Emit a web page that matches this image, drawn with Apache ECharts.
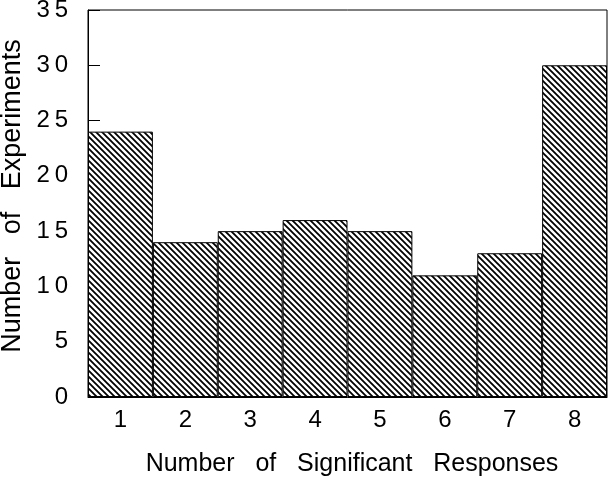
<!DOCTYPE html>
<html>
<head>
<meta charset="utf-8">
<script src="https://cdn.jsdelivr.net/npm/echarts@6/dist/echarts.min.js"></script>
<style>
  html, body { margin: 0; padding: 0; background: #fff; }
  #chart { width: 612px; height: 478px; }
</style>
</head>
<body>
<div id="chart"></div>
<script>
var categories = ['1', '2', '3', '4', '5', '6', '7', '8'];
var experiments = [24, 14, 15, 16, 15, 11, 13, 30];
var yTicks = [0, 5, 10, 15, 20, 25, 30, 35];

// hatch tile, lines running top-left to bottom-right
function makeHatch() {
    var n = 6;
    var c = document.createElement('canvas');
    c.width = n;
    c.height = n;
    var ctx = c.getContext('2d');
    ctx.fillStyle = '#fff';
    ctx.fillRect(0, 0, n, n);
    ctx.strokeStyle = '#000';
    ctx.lineWidth = 1.8;
    ctx.beginPath();
    ctx.moveTo(-1, -1); ctx.lineTo(n + 1, n + 1);
    ctx.moveTo(-1, n - 1); ctx.lineTo(1, n + 1);
    ctx.moveTo(n - 1, -1); ctx.lineTo(n + 1, 1);
    ctx.stroke();
    return c;
}

function spaced(s) {
    return String(s).split('').join('\u2009');
}

var font = 'Liberation Sans, Arial, sans-serif';

var chart = echarts.init(document.getElementById('chart'));
chart.setOption({
    animation: false,
    grid: {
        left: 88, top: 10, width: 519, height: 387,
        outerBoundsMode: 'none',
        containLabel: false,
        show: true, borderColor: '#000', borderWidth: 1
    },
    xAxis: {
        type: 'category',
        data: categories,
        name: 'Number   of   Significant   Responses',
        nameLocation: 'middle',
        nameGap: 55,
        nameTextStyle: { fontFamily: font, fontSize: 25, color: '#000', padding: [0, 0, 0, 9] },
        axisLine: { lineStyle: { color: '#000' } },
        axisTick: { show: false },
        axisLabel: { fontFamily: font, fontSize: 24, color: '#000', margin: 11 }
    },
    yAxis: {
        type: 'value',
        min: 0, max: 35, interval: 5,
        name: 'Number   of   Experiments',
        nameLocation: 'middle',
        nameGap: 60,
        nameTextStyle: { fontFamily: font, fontSize: 27, color: '#000', padding: [0, 0, 0, 15] },
        axisLine: { show: true, lineStyle: { color: '#000' } },
        axisTick: { show: true, inside: true, length: 12, lineStyle: { color: '#000' } },
        splitLine: { show: false },
        axisLabel: {
            fontFamily: font, fontSize: 24, color: '#000', margin: 20,
            lineHeight: 30, padding: [6, 0, 0, 0],
            formatter: function (v) { return yTicks.indexOf(v) >= 0 ? spaced(v) : ''; }
        }
    },
    series: [{
        type: 'bar',
        data: experiments,
        barWidth: '100%',
        itemStyle: {
            color: { image: makeHatch(), repeat: 'repeat' },
            borderColor: '#000',
            borderWidth: 1
        }
    }]
});
</script>
</body>
</html>
